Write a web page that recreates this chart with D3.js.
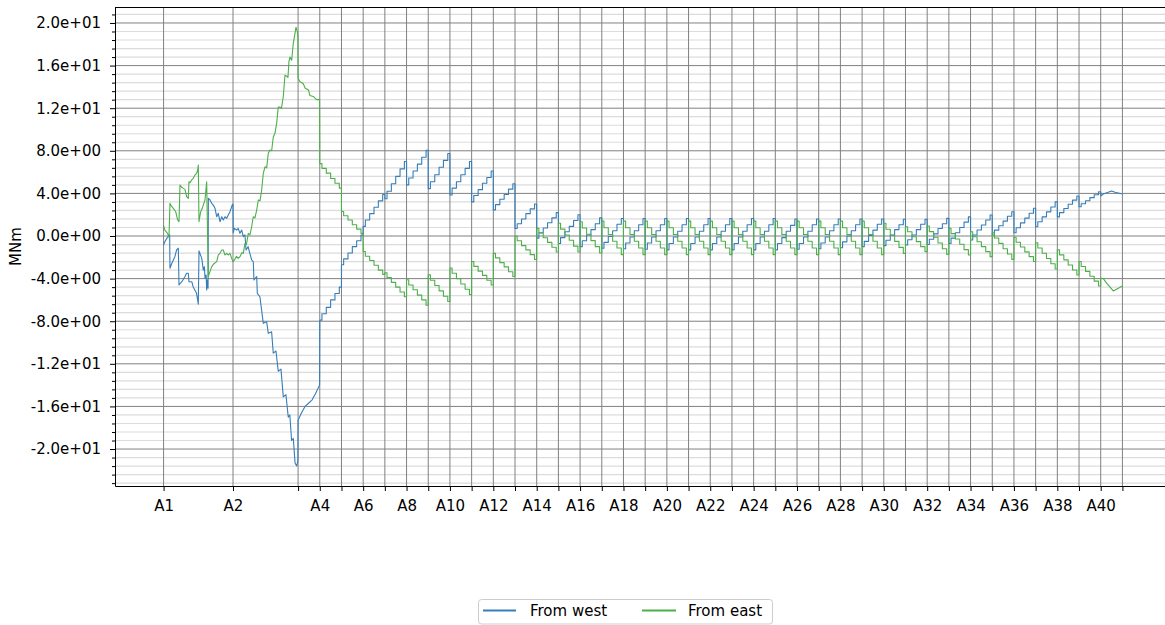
<!DOCTYPE html>
<html><head><meta charset="utf-8">
<script src="https://cdn.jsdelivr.net/npm/d3@7"></script>
<style>
body{margin:0;background:#fff}
svg{display:block;font-family:"DejaVu Sans",sans-serif}
</style>
</head><body>
<svg id="chart" width="1165" height="625"></svg>
<script>
// ---------------- data ----------------
const supportNames = ["A1","A2","A3","A4","A5","A6","A7","A8","A9","A10","A11","A12","A13","A14","A15","A16","A17","A18","A19","A20","A21","A22","A23","A24","A25","A26","A27","A28","A29","A30","A31","A32","A33","A34","A35","A36","A37","A38","A39","A40","A41"];
const supportChainage = [0,160,310,360,410,460,510,560,610,660,710,760,810,860,910,960,1010,1060,1110,1160,1210,1260,1310,1360,1410,1460,1510,1560,1610,1660,1710,1760,1810,1860,1910,1960,2010,2060,2110,2160,2210];
const labelledSupports = ["A1","A2","A4","A6","A8","A10","A12","A14","A16","A18","A20","A22","A24","A26","A28","A30","A32","A34","A36","A38","A40"];
const yTickValues = [-20,-16,-12,-8,-4,0,4,8,12,16,20];
const seriesNames = ["From west","From east"];
const seriesColors = ["#377eb8","#4daf4a"];

// A1 -> A4 : irregular part, [chainage m, MNm]
const westStart = [[0,-0.85],[3,-0.53],[9,-0.12],[14,0.1],[14.7,-3.03],[19,-2.56],[26,-1.94],[30,-1.31],[34,-1.15],[35.5,-4.6],[42,-4.29],[49,-3.82],[53,-3.5],[57,-3.5],[58.5,-4.29],[65,-4.29],[68,-4.76],[72,-5.07],[76,-5.38],[80,-6.4],[81.6,-1.4],[88,-2.1],[91.5,-3.2],[94,-2.88],[95.5,-3.97],[98,-3.66],[99.3,-5.07],[100.7,-4.13],[102.5,-4.9],[103.2,3.54],[107,3.38],[111,3.07],[114.5,2.9],[118.5,2.6],[122.4,1.81],[126,2.13],[130,1.34],[134,1.81],[137.6,1.5],[141.5,1.81],[145.4,1.66],[149,1.97],[153,2.28],[158,2.9],[160,3.0],[160.5,0.3],[163,0.72],[168.5,0.56],[172,0.72],[176,0.25],[180,0.56],[183.7,-0.06],[187.6,0.1],[190,-1.31],[195,-1.0],[196,-1.2],[203,-2.25],[206.7,-2.4],[208.3,-4.13],[214.6,-3.8],[216,-5.38],[222,-5.7],[229.8,-8.2],[237.6,-8.05],[241.3,-9.14],[249,-9.0],[252.8,-11.0],[259,-10.8],[264.3,-12.7],[270.5,-12.5],[275.9,-15.1],[282,-14.9],[287.4,-17.0],[291,-16.8],[295,-19.2],[299,-19.0],[303,-21.3],[306.8,-21.6],[309.5,-21.1],[310,-17.3],[318,-16.6],[326,-16.0],[334,-15.7],[342,-15.4],[350,-14.8],[359.5,-14.0],[360,-7.9]];
const eastStart = [[0,0.94],[3,0.56],[9,0.25],[12.4,-0.12],[14.7,3.07],[16.4,2.9],[22.4,2.6],[27.9,2.28],[32.5,1.5],[35.5,1.34],[37.8,4.79],[41.7,4.57],[45.4,4.47],[49.3,4.38],[53.2,3.69],[56.9,3.54],[58.5,5.1],[60.8,5.0],[64.8,5.26],[68.4,5.42],[72.4,5.73],[76.3,5.89],[78.6,6.2],[80,6.67],[81.6,1.34],[85.5,2.28],[89.2,2.6],[91.5,2.9],[95.4,3.38],[99.3,5.1],[103,-3.82],[106.9,-3.35],[110.9,-2.88],[116,-2.6],[122.4,-2.41],[126.1,-1.78],[130,-1.63],[133.9,-1.31],[137.6,-1.31],[141.5,-1.78],[145.4,-1.63],[149.1,-1.78],[153,-1.63],[156.9,-2.1],[160,-2.4],[163.5,-2.25],[168,-1.9],[172,-2.1],[176.1,-1.94],[180.7,-1.55],[183.7,-1.63],[187.6,-0.69],[191,-0.8],[195.2,0.25],[199,0.1],[203,0.87],[206.7,1.81],[210.6,1.7],[214.6,2.44],[218.3,3.38],[222.2,3.3],[226.1,4.32],[229.8,5.89],[233.7,6.5],[237.6,6.4],[241.3,7.76],[245.2,8.07],[249.1,8.0],[252.8,9.3],[256.7,9.64],[260.7,10.6],[264.3,12.1],[268.3,12.1],[271.7,12.0],[275.9,13.1],[279.8,15.1],[283.7,15.0],[286.7,14.9],[289,16.4],[291.3,16.8],[295.2,16.5],[299,18.1],[302.8,19.0],[305.1,19.6],[307.4,19.3],[309.5,18.9],[310,14.8],[314,14.5],[322,14.3],[326,13.9],[334,13.7],[337,13.2],[345,13.1],[352.5,12.8],[359.5,12.8],[360,6.8]];

// A4 -> A40 : regular 50 m spans, values at these offsets (m) from the span start
const stepOffsets = [0,10,20,30,40,50];
const westSpans = [
[-7.9,-7.3,-6.7,-6.0,-5.4,-4.8],
[-2.7,-2.15,-1.6,-1.0,-0.45,0.1],
[0.9,1.5,2.1,2.7,3.3,3.9],
[3.5,4.2,4.9,5.6,6.3,7.0],
[4.8,5.45,6.1,6.75,7.4,8.05],
[4.45,5.1,5.75,6.45,7.1,7.75],
[3.85,4.5,5.1,5.75,6.35,7.0],
[3.2,3.8,4.35,4.95,5.5,6.1],
[2.45,2.95,3.45,3.9,4.4,4.9],
[0.7,1.15,1.6,2.1,2.55,3.0],
[-0.2,0.3,0.75,1.25,1.7,2.2],
[-0.7,-0.15,0.4,0.9,1.45,2.0],
[-1.0,-0.45,0.1,0.6,1.15,1.7],
[-1.15,-0.6,-0.05,0.5,1.1,1.65],
[-1.2,-0.65,-0.1,0.5,1.05,1.65],
[-1.25,-0.65,-0.1,0.5,1.05,1.65],
[-1.3,-0.7,-0.1,0.45,1.05,1.65],
[-1.3,-0.7,-0.1,0.45,1.05,1.65],
[-1.3,-0.7,-0.1,0.45,1.05,1.65],
[-1.3,-0.7,-0.1,0.45,1.05,1.65],
[-1.3,-0.7,-0.1,0.45,1.05,1.65],
[-1.3,-0.7,-0.15,0.45,1.0,1.6],
[-1.25,-0.7,-0.1,0.45,1.05,1.6],
[-1.2,-0.65,-0.1,0.5,1.05,1.6],
[-1.1,-0.55,0.0,0.5,1.05,1.6],
[-1.0,-0.5,0.05,0.55,1.1,1.6],
[-0.9,-0.4,0.1,0.6,1.05,1.57],
[-0.85,-0.35,0.1,0.6,1.1,1.57],
[-0.8,-0.3,0.2,0.7,1.15,1.66],
[-0.7,-0.2,0.3,0.8,1.3,1.8],
[-0.38,0.1,0.56,1.03,1.5,1.97],
[0.1,0.55,0.97,1.4,1.85,2.28],
[0.31,0.77,1.23,1.68,2.14,2.6],
[0.87,1.34,1.8,2.27,2.73,3.2],
[1.8,2.2,2.58,2.98,3.37,3.76],
[2.75,3.03,3.31,3.6,3.88,4.16]
];
const eastSpans = [
[6.8,6.35,5.9,5.4,4.95,4.5],
[2.3,1.9,1.5,1.05,0.65,0.25],
[-1.45,-1.9,-2.3,-2.75,-3.2,-3.6],
[-3.45,-3.9,-4.35,-4.8,-5.25,-5.7],
[-4.1,-4.6,-5.05,-5.55,-6.0,-6.5],
[-3.65,-4.15,-4.65,-5.15,-5.65,-6.15],
[-3.0,-3.5,-4.0,-4.5,-5.0,-5.5],
[-2.4,-2.85,-3.3,-3.7,-4.15,-4.6],
[-1.63,-2.05,-2.5,-2.9,-3.35,-3.8],
[0.0,-0.45,-0.9,-1.3,-1.75,-2.2],
[0.72,0.28,-0.17,-0.6,-1.05,-1.5],
[1.2,0.65,0.1,-0.4,-0.95,-1.5],
[1.34,0.75,0.16,-0.43,-1.0,-1.6],
[1.4,0.77,0.14,-0.49,-1.12,-1.75],
[1.4,0.77,0.14,-0.49,-1.12,-1.75],
[1.4,0.77,0.14,-0.49,-1.12,-1.75],
[1.4,0.77,0.14,-0.49,-1.12,-1.75],
[1.4,0.77,0.14,-0.49,-1.12,-1.75],
[1.4,0.77,0.14,-0.49,-1.12,-1.75],
[1.4,0.77,0.14,-0.49,-1.12,-1.75],
[1.4,0.77,0.14,-0.49,-1.12,-1.75],
[1.4,0.77,0.14,-0.49,-1.12,-1.75],
[1.4,0.77,0.14,-0.49,-1.12,-1.75],
[1.4,0.77,0.14,-0.49,-1.12,-1.75],
[1.4,0.77,0.14,-0.49,-1.12,-1.75],
[1.4,0.77,0.14,-0.49,-1.12,-1.75],
[1.2,0.63,0.07,-0.5,-1.07,-1.63],
[0.87,0.4,-0.07,-0.53,-1.0,-1.47],
[0.94,0.41,-0.12,-0.66,-1.19,-1.72],
[0.72,0.22,-0.28,-0.78,-1.28,-1.78],
[0.4,-0.07,-0.54,-1.0,-1.47,-1.94],
[0.31,-0.19,-0.69,-1.19,-1.69,-2.19],
[-0.12,-0.58,-1.03,-1.49,-1.94,-2.4],
[-0.63,-1.12,-1.62,-2.11,-2.61,-3.1],
[-1.3,-1.77,-2.24,-2.72,-3.19,-3.66],
[-2.4,-2.86,-3.32,-3.78,-4.24,-4.7]
];
// A40 -> A41 : last span
const westEnd = [[2160,4.16],[2160,3.76],[2166,3.94],[2174,4.07],[2185,4.22],[2193,4.1],[2210,3.94]];
const eastEnd = [[2160,-4.7],[2160,-3.97],[2166,-4.0],[2174,-4.44],[2189,-5.16],[2210,-4.7]];

// ---------------- layout ----------------
const svg = d3.select("#chart");
const L = 115, T = 7, R = 1171, B = 486;
const x = d3.scaleLinear().domain([-112, 2322]).range([L, R]);
const y = d3.scaleLinear().domain([-23.47, 21.5]).range([B, T]);
const FONT = 15;

svg.append("rect").attr("width",1165).attr("height",625).attr("fill","#fff");
svg.append("defs").append("clipPath").attr("id","clip")
  .append("rect").attr("x",L).attr("y",T).attr("width",R-L).attr("height",B-T);

const minorY = d3.range(-29, 28).filter(i => i % 5 !== 0).map(i => i * 0.8)
  .filter(v => v > y.domain()[0] && v < y.domain()[1]);

const grid = svg.append("g");
grid.selectAll("line.minor").data(minorY).join("line")
  .attr("x1",L).attr("x2",R).attr("y1",d=>y(d)).attr("y2",d=>y(d))
  .attr("stroke","#dcdcdc").attr("stroke-width",1.2);
grid.selectAll("line.majy").data(yTickValues).join("line")
  .attr("x1",L).attr("x2",R).attr("y1",d=>y(d)).attr("y2",d=>y(d))
  .attr("stroke","#808080").attr("stroke-width",1);
grid.selectAll("line.majx").data(supportChainage).join("line")
  .attr("x1",d=>x(d)).attr("x2",d=>x(d)).attr("y1",T).attr("y2",B)
  .attr("stroke","#808080").attr("stroke-width",1);

// ---------------- series ----------------
function spanPoints(spans){
  const pts = [];
  spans.forEach((vals, i) => {
    const s = supportChainage[3 + i];
    vals.forEach((v, j) => pts.push([s + stepOffsets[j], v]));
  });
  return pts;
}
const lineLin = d3.line().x(d=>x(d[0])).y(d=>y(d[1]));
const lineStep = d3.line().x(d=>x(d[0])).y(d=>y(d[1])).curve(d3.curveStep);

const plot = svg.append("g").attr("clip-path","url(#clip)");
const series = [
  {start: westStart, spans: westSpans, end: westEnd},
  {start: eastStart, spans: eastSpans, end: eastEnd}
];
series.forEach((s, k) => {
  const g = plot.append("g").attr("fill","none").attr("stroke",seriesColors[k])
    .attr("stroke-width",1.1).attr("stroke-linejoin","round");
  g.append("path").attr("d", lineLin(s.start));
  g.append("path").attr("d", lineStep(spanPoints(s.spans)));
  g.append("path").attr("d", lineLin(s.end));
});

// ---------------- axes ----------------
const fmt = v => v.toExponential(1).replace(/e([+-])(\d)$/, "e$10$2");

const yAxis = svg.append("g").attr("transform",`translate(${L},0)`)
  .call(d3.axisLeft(y).tickValues(yTickValues).tickFormat(fmt).tickSize(5).tickSizeOuter(0).tickPadding(9));
svg.append("g").attr("transform",`translate(${L},0)`)
  .call(d3.axisLeft(y).tickValues(minorY).tickFormat("").tickSize(3).tickSizeOuter(0))
  .call(g => g.select(".domain").remove());

const labelSet = new Set(labelledSupports);
const xAxis = svg.append("g").attr("transform",`translate(0,${B})`)
  .call(d3.axisBottom(x).tickValues(supportChainage)
    .tickFormat((d,i) => labelSet.has(supportNames[i]) ? supportNames[i] : "")
    .tickSize(5).tickSizeOuter(0).tickPadding(9.5));

[yAxis, xAxis].forEach(a => {
  a.attr("font-family",'"DejaVu Sans",sans-serif').attr("font-size",FONT);
  a.selectAll("text").attr("fill","#000");
  a.selectAll("line,path").attr("stroke","#000");
});
// top spine
svg.append("line").attr("x1",L).attr("x2",R).attr("y1",T+0.5).attr("y2",T+0.5)
  .attr("stroke","#000").attr("stroke-width",1);

svg.append("text").attr("transform","translate(21,246.5) rotate(-90)")
  .attr("text-anchor","middle").attr("font-size",FONT).attr("fill","#000").text("MNm");

// ---------------- legend ----------------
const lg = svg.append("g");
lg.append("rect").attr("x",478.5).attr("y",599.5).attr("width",294).attr("height",24.5)
  .attr("rx",3).attr("fill","#fff").attr("stroke","#cccccc");
const legendX = [[483,516,530],[642,676,688]];
seriesNames.forEach((n,k) => {
  lg.append("line").attr("x1",legendX[k][0]).attr("x2",legendX[k][1]).attr("y1",610.5).attr("y2",610.5)
    .attr("stroke",seriesColors[k]).attr("stroke-width",2.2);
  lg.append("text").attr("x",legendX[k][2]).attr("y",616).attr("font-size",FONT).attr("fill","#000").text(n);
});
</script>
</body></html>
